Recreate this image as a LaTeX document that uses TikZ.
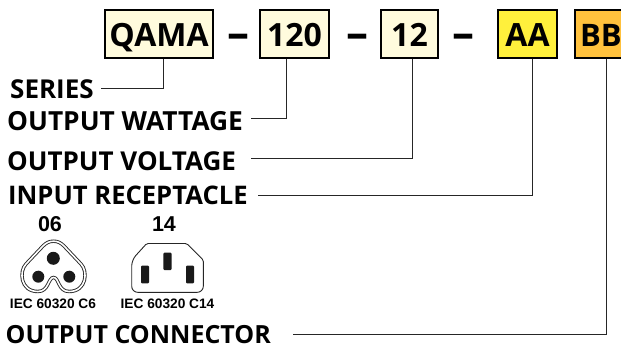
\documentclass[tikz,border=0pt]{standalone}
\usepackage{fontspec}
\setmainfont{Open Sans}
\newfontfamily\iecfont{Liberation Sans}
\usetikzlibrary{positioning, arrows.meta, calc}
\definecolor{creamC}{HTML}{FFFBDD}
\definecolor{yellowC}{HTML}{FFF03C}
\definecolor{orangeC}{HTML}{FFC13D}
\tikzset{
  partbox/.style={draw=black, line width=1.1pt, inner sep=0pt, minimum height=48pt,
    text height=26pt, text depth=0pt, font=\fontsize{32}{32}\selectfont\bfseries},
  fieldlabel/.style={anchor=base west, inner sep=0pt, font=\fontsize{#1}{28}\selectfont\bfseries},
  fieldlabel/.default=26,
  codelabel/.style={inner sep=0pt, font=\iecfont\fontsize{21.5}{22}\selectfont\bfseries},
  ieclabel/.style={inner sep=0pt, font=\iecfont\fontsize{13.7}{14}\selectfont\bfseries},
  sepdash/.style={inner sep=0pt, font=\fontsize{44}{44}\selectfont\bfseries},
  leader/.style={draw=black!85, line width=1pt},
  plugline/.style={draw=black!85, line width=0.9pt},
  pinmark/.style={fill=black!90, draw=none}
}
\begin{document}
\begin{tikzpicture}[x=1pt, y=-1pt]
  \useasboundingbox (0,0) rectangle (621,345);
  \node[partbox, fill=creamC, minimum width=108pt] (qama) at (159,34) {QAMA};
  \node[partbox, fill=creamC, minimum width=69pt] (watt) at (294.5,34) {120};
  \node[partbox, fill=creamC, minimum width=57pt] (volt) at (409.5,34) {12};
  \node[partbox, fill=yellowC, minimum width=59pt] (recp) at (527.5,34) {AA};
  \node[partbox, fill=orangeC, minimum width=60pt, text width=60pt] (conn) at (605,34)
    {\hspace{5pt}\fontsize{31}{32}\selectfont BB};
  \node[sepdash] (d1) at (238.5,41) {–};
  \node[sepdash] (d2) at (357,41) {–};
  \node[sepdash] (d3) at (463,41) {–};

  \node[fieldlabel] (series) at (10,98) {SERIES};
  \node[fieldlabel=26.3] (wattage) at (7,130.5) {OUTPUT WATTAGE};
  \node[fieldlabel] (voltage) at (7,170) {OUTPUT VOLTAGE};
  \node[fieldlabel=25.6] (input) at (8,204) {INPUT RECEPTACLE};
  \node[fieldlabel=25] (output) at (5.5,343) {OUTPUT CONNECTOR};

  \coordinate (seriesEnd) at (101,88.3);
  \coordinate (wattEnd) at (250.5,118);
  \coordinate (voltEnd) at (250.5,158);
  \coordinate (inputEnd) at (258,195);
  \coordinate (outputEnd) at (293,334);
  \draw[leader] ([xshift=4pt]qama.south) |- (seriesEnd);
  \draw[leader] ([xshift=-8.5pt]watt.south) |- (wattEnd);
  \draw[leader] ([xshift=2.5pt]volt.south) |- (voltEnd);
  \draw[leader] ([xshift=4.5pt]recp.south) |- (inputEnd);
  \draw[leader] ([xshift=1pt]conn.south) |- (outputEnd);

  \node[codelabel] (c06) at (50,224) {06};
  \node[codelabel] (c14) at (164,224) {14};
  \node[ieclabel] (iec06) at (53,304) {IEC 60320 C6};
  \node[ieclabel] (iec14) at (167.5,304) {IEC 60320 C14};

  \draw[plugline, double=white, double distance=1.6pt]
    (53.6,241.2) .. controls (58,241.2) and (61,243) .. (64,246)
    -- (81,264) .. controls (88,271) and (87,291.5) .. (69,291.5)
    .. controls (58,291.5) and (59,277.5) .. (53.6,277.5)
    .. controls (48,277.5) and (49,291.5) .. (38,291.5)
    .. controls (20,291.5) and (19,271) .. (26,264)
    -- (43,246) .. controls (46,243) and (49,241.2) .. (53.6,241.2) -- cycle;
  \fill[pinmark] (53.3,258.3) circle (6.5);
  \fill[pinmark] (38.3,276.7) circle (6);
  \fill[pinmark] (69.3,276.7) circle (6);

  \draw[plugline, rounded corners=1.5pt]
    (146.7,243.5) -- (186.7,243.5) -- (203.3,260) [sharp corners] -- (203.3,285)
    [rounded corners=6pt] -- (203.3,292.3) -- (131.7,292.3) -- (131.7,260)
    [rounded corners=1.5pt] -- cycle;
  \fill[pinmark, rounded corners=1pt] (163.3,252.7) rectangle (171.7,270);
  \fill[pinmark, rounded corners=1pt] (141,265.7) rectangle (149,283.3);
  \fill[pinmark, rounded corners=1pt] (186,265.7) rectangle (194,283.3);
\end{tikzpicture}
\end{document}
